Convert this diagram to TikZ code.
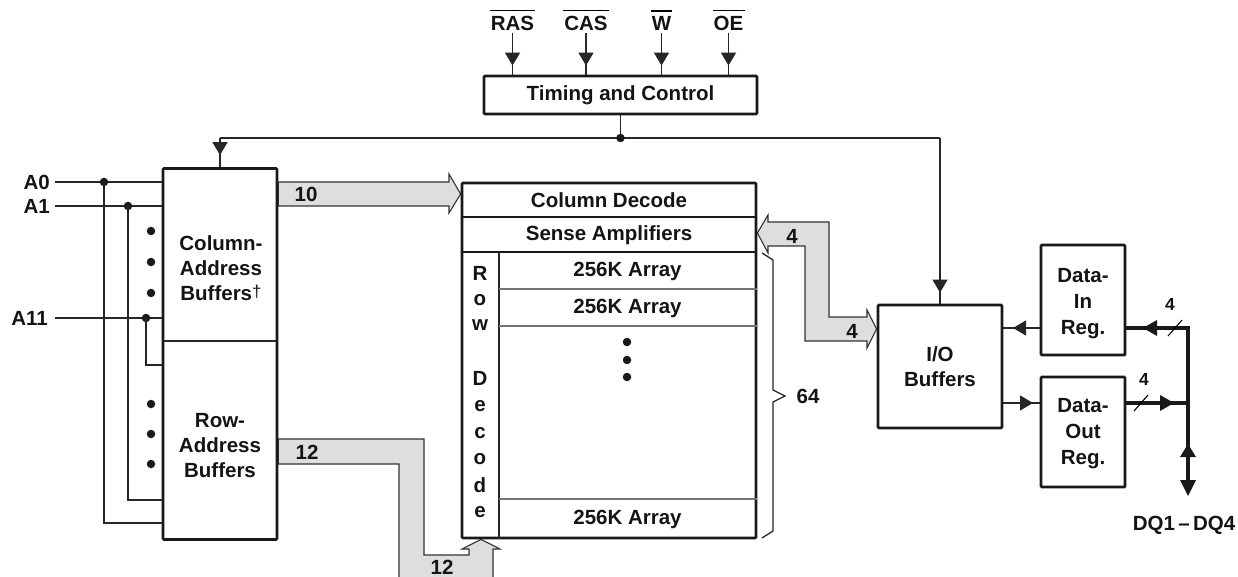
\documentclass[tikz,border=0pt]{standalone}
\usepackage{fontspec}
\setmainfont{Liberation Sans}
\usetikzlibrary{arrows.meta,calc}
\pgfdeclarelayer{bg}
\pgfsetlayers{bg,main}
\begin{document}
\begin{tikzpicture}[x=1pt,y=-1pt,
  every node/.style={font=\fontsize{20.5}{25}\selectfont\bfseries, inner sep=0pt, text=black!92},
  box/.style={draw=black!90, line width=2.8pt, rounded corners=1pt},
  wire/.style={line width=1.3pt, draw=black!85},
  thinrow/.style={line width=1.1pt, draw=black!55},
  bus/.style={fill=black!13, draw=black!80, line width=1.1pt, line join=miter},
  tip/.style={-{Triangle[length=13pt,width=15pt]}},
  jdot/.style={circle, fill=black!90, minimum size=8.5pt, inner sep=0pt},
  thickbus/.style={line width=3.8pt, draw=black!90, line join=miter},
  head/.style={fill=black!90},
  small/.style={font=\fontsize{17.5}{20}\selectfont\bfseries},
]
\begin{pgfonlayer}{bg}
\fill[white] (0,0) rectangle (1238,577);
\end{pgfonlayer}
\useasboundingbox (0,0) rectangle (1238,577);

% ---------- boxes ----------
\node[box, minimum width=273pt, minimum height=38pt] (tc) at (620.5,95) {Timing and Control};
\node[box, minimum width=114pt, minimum height=371pt] (cab) at (220,354) {};
\node[box, minimum width=294pt, minimum height=355pt] (arr) at (609,360.5) {};
\node[box, minimum width=124pt, minimum height=123pt, align=center] (io) at (940,366.5) {I/O\\Buffers};
\node[box, minimum width=84pt, minimum height=110pt] (din) at (1083,300) {};
\node[box, minimum width=84pt, minimum height=110pt] (dout) at (1083,432) {};

% texts in boxes
\node[align=center] (colt) at (221,268) {Column-\\Address\\Buffers\raisebox{3pt}{\fontsize{17}{17}\selectfont\mdseries †}};
\node[align=center] (rowt) at (220,446) {Row-\\Address\\Buffers};
\node[align=center, font=\fontsize{20.5}{26}\selectfont\bfseries] (dint) at (1083,304) {Data-\\In\\Reg.};
\node[align=center, font=\fontsize{20.5}{26}\selectfont\bfseries] (doutt) at (1083,434) {Data-\\Out\\Reg.};
\draw[wire] (cab.west |- 0,341) -- (cab.east |- 0,341);

% ---------- memory array ----------
\node (cdec) at (609,200) {Column Decode};
\node (samp) at (609,235) {Sense Amplifiers};
\draw[line width=2.2pt, draw=black!90] (arr.west |- 0,217) -- (arr.east |- 0,217);
\draw[line width=2.2pt, draw=black!90] (arr.west |- 0,252) -- (arr.east |- 0,252);
\coordinate (rdtop) at (499,252);
\draw[wire] (rdtop) -- (rdtop |- arr.south);
\draw[thinrow] (rdtop |- 0,289) -- (arr.east |- 0,289);
\draw[thinrow] (rdtop |- 0,326) -- (arr.east |- 0,326);
\draw[thinrow] (rdtop |- 0,499) -- (arr.east |- 0,499);
\node (ar1) at (627.5,271) {256K Array};
\node (ar2) at (627.5,308) {256K Array};
\node (ar3) at (627.5,519) {256K Array};
\foreach \yy/\nm in {342/ad1,360/ad2,377/ad3}
  \node[jdot, minimum size=8.5pt] (\nm) at (627,\yy) {};
\foreach \ch/\yy/\nm in {R/273/rd1,o/300/rd2,w/325/rd3,D/378/rd4,e/406/rd5,c/433/rd6,o/459/rd7,d/485/rd8,e/512/rd9}
  \node (\nm) at (480,\yy) {\ch};

% brace
\coordinate (brt) at (762,253);
\coordinate (brb) at (762,538);
\draw[wire] (brt) -- (773,260) -- (773,390) -- (785,396) -- (773,402) -- (773,531) -- (brb);
\node (n64) at (808,396) {64};

% ---------- control signals ----------
\foreach \nm/\txt/\xx in {ras/RAS/512.5,cas/CAS/586,wsig/W/661.5,oe/OE/728.5}{
  \node (\nm) at (\xx,23) {\txt};
  \draw[line width=1.9pt] ($(\nm.north west)+(-1,-5)$) -- ($(\nm.north east)+(1,-5)$);
  \draw[wire,tip] ($(\nm.south)+(0,3)$) -- ($(\nm.south |- tc.north)+(0,-9)$);
  \draw[wire] ($(\nm.south |- tc.north)+(0,-11)$) -- (\nm.south |- tc.north);
}

% control distribution
\coordinate (cj) at (tc.south |- 0,138);
\draw[wire] (tc.south) -- (cj);
\draw[wire] (cab.north |- cj) -- (io.north |- cj);
\node[jdot] (cjd) at (cj) {};
\draw[wire,tip] (cab.north |- cj) -- ($(cab.north)+(0,-12)$);
\draw[wire] ($(cab.north)+(0,-14)$) -- (cab.north);
\draw[wire,tip] (io.north |- cj) -- ($(io.north)+(0,-11)$);
\draw[wire] ($(io.north)+(0,-13)$) -- (io.north);

% ---------- address inputs ----------
\node[anchor=east] (a0) at (50,182) {A0};
\node[anchor=east] (a1) at (50,206) {A1};
\node[anchor=east] (a11) at (48,318) {A11};
\draw[wire] ($(a0.east)+(5,0)$) -- (a0.east -| cab.west);
\draw[wire] ($(a1.east)+(5,0)$) -- (a1.east -| cab.west);
\draw[wire] ($(a11.east)+(7,0)$) -- (a11.east -| cab.west);
\node[jdot] (j0) at (104,182) {};
\node[jdot] (j1) at (128,206) {};
\node[jdot] (j11) at (146,318) {};
\draw[wire] (j0.center) |- (cab.west |- 0,523);
\draw[wire] (j1.center) |- (cab.west |- 0,500);
\draw[wire] (j11.center) |- (cab.west |- 0,365);
\foreach \yy/\nm in {231/c1,262/c2,293/c3,404/c4,434/c5,464/c6}
  \node[jdot] (\nm) at (151,\yy) {};

% ---------- buses ----------
\begin{pgfonlayer}{bg}
\begin{scope}
\clip (0,0) rectangle (1238,577);
\path[bus] (cab.east |- 0,182) -- (449,182) -- (449,174) -- (arr.west |- 0,194) -- (449,213) -- (449,206) -- (cab.east |- 0,206) -- cycle;
\path[bus] (cab.east |- 0,439) -- (424,439) -- (424,555) -- (469,555) -- (469,549) -- (462,549) -- (arr.south -| 481,0) -- (500,549) -- (493,549) -- (493,600) -- (399,600) -- (399,464) -- (cab.east |- 0,464) -- cycle;
\path[bus] (arr.east |- 0,233) -- (768,215) -- (768,222) -- (829,222) -- (829,317) -- (867,317) -- (867,310) -- (io.west |- 0,329) -- (867,348) -- (867,341) -- (805,341) -- (805,246) -- (768,246) -- (768,253) -- cycle;
\end{scope}
\end{pgfonlayer}
\node (b10) at (306,194) {10};
\node (b12a) at (307,452) {12};
\node (b12b) at (442,567) {12};
\node (b4a) at (792,236) {4};
\node (b4b) at (852,331) {4};

% ---------- data path ----------
\draw[wire,tip] (din.west |- 0,328) -- (1013,328);
\draw[wire] (1015,328) -- (io.east |- 0,328);
\draw[wire,tip] (io.east |- 0,403) -- (1033,403);
\draw[wire] (1031,403) -- (dout.west |- 0,403);

\coordinate (jin) at (1188,328);
\coordinate (jout) at (1188,403);
\coordinate (dqend) at (1188,484);
\draw[thickbus] (din.east |- jin) -- (jin) -- (dqend);
\draw[thickbus] (dout.east |- jout) -- (jout);
\fill[head] (1143,328) -- (1157,320) -- (1157,336) -- cycle;
\fill[head] (1174,403) -- (1160,395) -- (1160,411) -- cycle;
\fill[head] (1188,444) -- (1196,457) -- (1180,457) -- cycle;
\fill[head] (1188,496) -- (1196,480) -- (1180,480) -- cycle;
\draw[line width=1.1pt] (1168,336) -- (1182,320);
\draw[line width=1.1pt] (1134,411) -- (1148,395);
\node[small] (d4a) at (1170,304) {4};
\node[small] (d4b) at (1144,379) {4};
\node (dq) at (1184,525) {DQ1\,–\,DQ4};
\end{tikzpicture}
\end{document}
